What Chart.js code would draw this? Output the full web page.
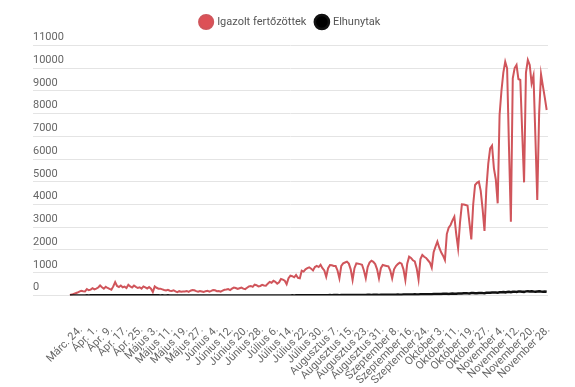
<!DOCTYPE html>
<html>
<head>
<meta charset="utf-8">
<script src="https://cdn.jsdelivr.net/npm/chart.js@4.4.0/dist/chart.umd.min.js"></script>
<style>
  html, body { margin: 0; padding: 0; background: #fff; }
  #wrap { width: 575px; height: 387px; }
</style>
</head>
<body>
<div id="wrap"><canvas id="chart"></canvas></div>
<script>
// one label every 8 data points
const TICK_STEP = 8;
const tickLabels = [
  'Márc. 24.', 'Ápr. 1.', 'Ápr. 9.', 'Ápr. 17.', 'Ápr. 25.', 'Május 3.', 'Május 11.', 'Május 19.',
  'Május 27.', 'Június 4.', 'Június 12.', 'Június 20.', 'Június 28.', 'Július 6.', 'Július 14.', 'Július 22.',
  'Július 30.', 'Augusztus 7.', 'Augusztus 15.', 'Augusztus 23.', 'Augusztus 31.', 'Szeptember 8.', 'Szeptember 16.', 'Szeptember 24.',
  'Október 3.', 'Október 11.', 'Október 19.', 'Október 27.', 'November 4.', 'November 12.', 'November 20.', 'November 28.'
];

const cases = [
  20, 40, 70, 100, 130, 170, 210, 190, 180, 280,
  230, 260, 320, 270, 300, 350, 440, 360, 300, 380,
  330, 290, 250, 400, 590, 420, 370, 440, 360, 390,
  330, 470, 400, 350, 440, 380, 330, 360, 300, 400,
  360, 310, 370, 300, 150, 400, 340, 300, 300, 270,
  240, 220, 250, 210, 200, 230, 180, 150, 190, 170,
  180, 180, 200, 160, 210, 240, 230, 190, 170, 200,
  180, 160, 190, 210, 170, 200, 240, 230, 190, 200,
  170, 210, 250, 260, 280, 240, 300, 350, 330, 290,
  320, 350, 300, 280, 340, 400, 420, 380, 480, 450,
  400, 420, 470, 440, 430, 520, 600, 560, 650, 600,
  520, 580, 725, 700, 650, 500, 760, 870, 850, 800,
  900, 780, 760, 1090, 1050, 1150, 1200, 1240, 1180, 1100,
  1250, 1300, 1250, 1350, 1200, 1100, 826, 1200, 1341, 1330,
  1300, 1297, 1100, 755, 1300, 1415, 1450, 1487, 1400, 1150,
  681, 1200, 1415, 1400, 1380, 1350, 1100, 755, 1250, 1450,
  1530, 1480, 1380, 1150, 755, 1200, 1341, 1320, 1300, 1280,
  1100, 755, 1150, 1297, 1380, 1443, 1400, 1150, 681, 1400,
  1706, 1650, 1550, 1500, 1200, 700, 1600, 1780, 1700, 1650,
  1550, 1450, 1223, 1900, 2150, 2366, 2100, 1900, 1750, 1560,
  2700, 2981, 3100, 3300, 3465, 2700, 2073, 3200, 4007, 4000,
  3980, 3950, 3200, 2469, 4000, 4857, 4950, 5003, 4600, 3800,
  2835, 4711, 5800, 6469, 6586, 5590, 5100, 4052, 7934, 9000,
  9800, 10277, 9987, 6500, 3245, 9545, 10000, 10132, 9516, 9473,
  7200, 4974, 9800, 10352, 10132, 9327, 9663, 7000, 4198, 8000,
  9721, 9200, 8700, 8154
];

const deaths = [
  1, 1, 2, 1, 2, 3, 4, 5, 3, 6,
  5, 8, 6, 7, 9, 10, 8, 11, 12, 10,
  13, 11, 12, 10, 14, 12, 13, 11, 14, 10,
  12, 13, 11, 10, 12, 9, 11, 10, 8, 9,
  10, 8, 9, 7, 8, 6, 9, 7, 5, 6,
  5, 4, 6, 5, 3, 4, 5, 3, 2, 4,
  3, 2, 3, 2, 1, 2, 3, 1, 2, 1,
  2, 1, 2, 3, 1, 1, 2, 1, 0, 1,
  1, 2, 1, 0, 1, 1, 2, 1, 1, 0,
  1, 2, 1, 1, 3, 2, 1, 1, 2, 1,
  2, 1, 1, 2, 1, 2, 3, 2, 1, 2,
  2, 3, 2, 4, 3, 2, 5, 4, 6, 5,
  7, 6, 8, 9, 7, 10, 12, 11, 9, 13,
  14, 12, 15, 13, 16, 14, 12, 15, 17, 16,
  18, 20, 17, 15, 19, 22, 20, 23, 21, 18,
  22, 25, 23, 26, 24, 20, 27, 25, 28, 30,
  26, 29, 31, 28, 25, 32, 30, 33, 35, 31,
  34, 36, 33, 38, 40, 37, 35, 41, 43, 40,
  45, 42, 47, 50, 46, 44, 52, 55, 50, 57,
  60, 56, 58, 65, 62, 68, 70, 64, 72, 75,
  78, 70, 80, 85, 82, 76, 88, 92, 86, 95,
  100, 94, 90, 105, 110, 102, 98, 112, 115, 108,
  104, 120, 125, 118, 130, 135, 128, 122, 140, 145,
  150, 138, 155, 160, 148, 165, 170, 158, 175, 180,
  168, 160, 182, 190, 178, 185, 172, 165, 180, 188,
  175, 170, 178, 165
];

function points(arr) { return arr.map((v, i) => ({ x: i, y: v })); }

const FONT = 'Roboto';

new Chart(document.getElementById('chart'), {
  type: 'line',
  data: {
    datasets: [
      {
        label: 'Igazolt fertőzöttek',
        data: points(cases),
        borderColor: '#d0555b',
        backgroundColor: '#dd5056',
        borderWidth: 2,
        pointRadius: 0,
        tension: 0,
        order: 2,
      },
      {
        label: 'Elhunytak',
        data: points(deaths),
        borderColor: '#111',
        backgroundColor: '#000',
        borderWidth: 2.5,
        pointRadius: 0,
        tension: 0,
        order: 1,
      },
    ],
  },
  options: {
    responsive: true,
    maintainAspectRatio: false,
    animation: false,
    layout: { padding: { left: 33, right: 27, top: 6.5, bottom: 1.5 } },
    plugins: {
      tooltip: { enabled: false },
      legend: {
        position: 'top',
        labels: {
          usePointStyle: true,
          pointStyle: 'circle',
          boxHeight: 10,
          padding: 10,
          color: '#555',
          font: { family: FONT, size: 11 },
          sort: (a, b) => a.datasetIndex - b.datasetIndex,
        },
      },
      // empty title used as a spacer between the legend and the plot
      title: {
        display: true,
        text: '',
        position: 'top',
        weight: 500,
        font: { size: 1, lineHeight: 1 },
        padding: { top: 6.75, bottom: 0 },
      },
    },
    scales: {
      x: {
        type: 'linear',
        min: -19.6,
        max: 253.7,
        grid: { display: false },
        border: { display: false },
        afterBuildTicks: s => { s.ticks = tickLabels.map((_, i) => ({ value: i * TICK_STEP })); },
        afterFit: s => { s.height = 90; },
        ticks: {
          autoSkip: false,
          minRotation: 45,
          maxRotation: 45,
          padding: 20,
          labelOffset: 11,
          color: '#666',
          font: { family: FONT, size: 11 },
          callback: v => tickLabels[v / TICK_STEP] ?? '',
        },
      },
      y: {
        min: 0,
        max: 11000,
        grid: { color: '#e4e4e4', drawTicks: false },
        border: { display: false },
        ticks: {
          stepSize: 1000,
          mirror: true,
          padding: 0,
          labelOffset: -8,
          color: '#666',
          font: { family: FONT, size: 11 },
          callback: v => String(v),
        },
      },
    },
  },
});
</script>
</body>
</html>
